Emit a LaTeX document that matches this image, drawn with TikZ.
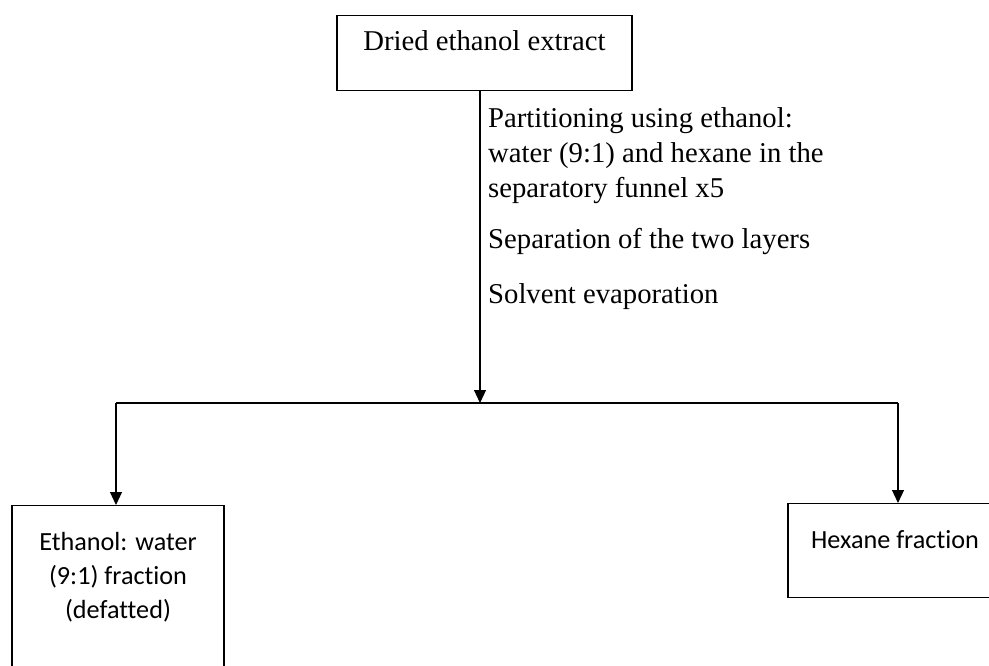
\documentclass[tikz,border=0pt]{standalone}
\usepackage{fontspec}
\setmainfont{Liberation Serif}
\newfontfamily\calib[Ligatures=NoCommon]{Carlito}
\usetikzlibrary{arrows.meta}
\begin{document}
\begin{tikzpicture}[x=1pt,y=-1pt,
  box/.style={draw, line width=1.2pt, inner xsep=0pt, inner ysep=0pt, align=center},
  link/.style={line width=1.2pt},
  arr/.style={line width=1.2pt, -{Triangle[length=13pt,width=12pt]}},
  serifsize/.style={font=\fontsize{28.7}{35}\selectfont},
  sanssize/.style={font=\calib\fontsize{26.2}{34}\selectfont}]
  \useasboundingbox (0,0) rectangle (989,666);

  % starting material
  \node[box, serifsize, anchor=north, minimum width=295pt,
        text height=35pt, text depth=40pt] (extract) at (484.5,15)
        {Dried ethanol extract};

  % procedure notes beside the trunk line
  \node[serifsize, anchor=base west, inner sep=0pt] (steps) at (488,127.7)
    {\begin{tabular}[t]{@{}l@{}}
      Partitioning using ethanol:\\
      water (9:1) and hexane in the\\
      separatory funnel x5\\[16pt]
      Separation of the two layers\\[20pt]
      Solvent evaporation
    \end{tabular}};

  % fractions
  \node[box, sanssize, anchor=north, minimum width=212pt,
        text height=45pt, text depth=120pt] (ethfrac) at (118,505)
    {\begin{tabular}[t]{@{}c@{}}Ethanol: water\\(9:1) fraction\\(defatted)\end{tabular}};
  \node[box, sanssize, anchor=north, minimum width=214pt,
        text height=45pt, text depth=49pt] (hexfrac) at (895,503)
    {Hexane fraction};

  % branching connectors
  \coordinate (split) at (480,403);
  \coordinate (lcorner) at (116,403);
  \coordinate (rcorner) at (898,403);
  \draw[arr] (extract.south -| split) -- (split);
  \draw[link] (lcorner) -- (rcorner);
  \draw[arr] (lcorner) -- (lcorner |- ethfrac.north);
  \draw[arr] (rcorner) -- (rcorner |- hexfrac.north);
\end{tikzpicture}
\end{document}
